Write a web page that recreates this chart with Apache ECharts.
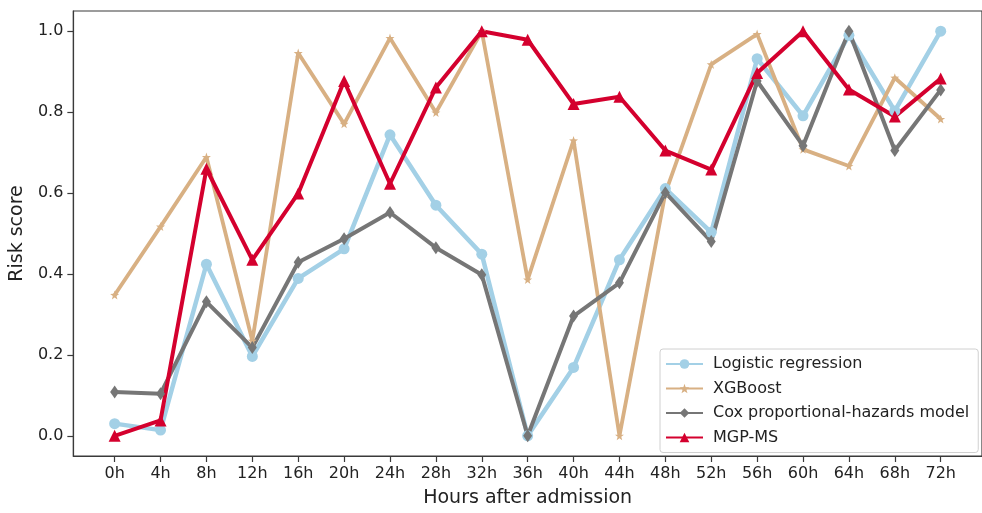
<!DOCTYPE html>
<html>
<head>
<meta charset="utf-8">
<script src="https://cdn.jsdelivr.net/npm/echarts@6/dist/echarts.min.js"></script>
<style>
  html, body { margin: 0; padding: 0; background: #fff; }
  #chart { width: 982px; height: 513px; }
</style>
</head>
<body>
<div id="chart"></div>
<script>
// Hours after admission at which each model's risk score is reported
const hours = [0, 4, 8, 12, 16, 20, 24, 28, 32, 36, 40, 44, 48, 52, 56, 60, 64, 68, 72];
const hourLabels = hours.map(h => h + 'h');
const yTicks = [0, 0.2, 0.4, 0.6, 0.8, 1.0];

const logisticRegression = [0.03, 0.014, 0.424, 0.196, 0.389, 0.462, 0.744, 0.57, 0.449, 0.0, 0.169, 0.435, 0.611, 0.503, 0.932, 0.791, 0.99, 0.803, 1.0];
const xgboost = [0.348, 0.517, 0.689, 0.235, 0.946, 0.771, 0.983, 0.799, 1.0, 0.386, 0.73, 0.0, 0.6, 0.918, 0.993, 0.708, 0.667, 0.885, 0.783];
const coxModel = [0.108, 0.104, 0.331, 0.218, 0.429, 0.487, 0.552, 0.465, 0.398, 0.0, 0.296, 0.378, 0.601, 0.48, 0.877, 0.717, 1.0, 0.705, 0.855];
const mgpMs = [0.0, 0.038, 0.66, 0.435, 0.599, 0.877, 0.623, 0.861, 1.0, 0.979, 0.82, 0.838, 0.705, 0.658, 0.897, 1.0, 0.856, 0.789, 0.883];

const pair = arr => hours.map((h, i) => [h, arr[i]]);

const STAR = 'path://M0,-10 L2.35,-3.24 L9.51,-3.09 L3.8,1.24 L5.88,8.09 L0,4 L-5.88,8.09 L-3.8,1.24 L-9.51,-3.09 L-2.35,-3.24 Z';
const FONT = 'DejaVu Sans';

const chart = echarts.init(document.getElementById('chart'), null, { renderer: 'canvas' });

function lineSeries(name, data, color, width, symbol, size) {
  return {
    name: name,
    type: 'line',
    data: pair(data),
    symbol: symbol,
    symbolSize: size,
    showAllSymbol: true,
    animation: false,
    lineStyle: { color: color, width: width },
    itemStyle: { color: color, borderWidth: 0 }
  };
}

chart.setOption({
  backgroundColor: '#ffffff',
  animation: false,
  grid: { left: 73, top: 11, right: -8, bottom: 54, show: true, borderColor: '#3a3a3a', borderWidth: 1.2, backgroundColor: 'transparent' },
  xAxis: {
    type: 'value',
    min: -3.6,
    max: 75.6,
    name: 'Hours after admission',
    nameLocation: 'middle',
    nameGap: 33,
    nameTextStyle: { fontFamily: FONT, fontSize: 19, color: '#222' },
    axisLine: { show: true, onZero: false, lineStyle: { color: '#3a3a3a', width: 1.2 } },
    axisTick: { show: true, length: 6, customValues: hours, lineStyle: { color: '#3a3a3a', width: 1.2 } },
    axisLabel: {
      customValues: hours,
      formatter: v => hourLabels[hours.indexOf(Math.round(v))] || '',
      fontFamily: FONT, fontSize: 16, color: '#222', margin: 10
    },
    splitLine: { show: false }
  },
  yAxis: {
    type: 'value',
    min: -0.05,
    max: 1.05,
    name: 'Risk score',
    nameLocation: 'middle',
    nameGap: 41,
    nameTextStyle: { fontFamily: FONT, fontSize: 19, color: '#222' },
    axisLine: { show: true, onZero: false, lineStyle: { color: '#3a3a3a', width: 1.2 } },
    axisTick: { show: true, length: 6, customValues: yTicks, lineStyle: { color: '#3a3a3a', width: 1.2 } },
    axisLabel: {
      customValues: yTicks,
      formatter: v => v.toFixed(1),
      fontFamily: FONT, fontSize: 16, color: '#222', margin: 10
    },
    splitLine: { show: false }
  },
  legend: {
    orient: 'vertical',
    left: 660,
    top: 349,
    backgroundColor: '#fff',
    borderColor: '#d0d0d0',
    borderWidth: 1,
    borderRadius: 3,
    padding: [7, 9, 7, 5],
    itemGap: 8.5,
    itemWidth: 37,
    itemHeight: 12,
    textStyle: { fontFamily: FONT, fontSize: 16, color: '#222', padding: [0, 0, 0, 5] },
    data: ['Logistic regression', 'XGBoost', 'Cox proportional-hazards model', 'MGP-MS']
  },
  series: [
    lineSeries('Logistic regression', logisticRegression, '#a3d0e6', 4.5, 'circle', 11),
    lineSeries('XGBoost', xgboost, '#d8b083', 3.8, STAR, 9),
    lineSeries('Cox proportional-hazards model', coxModel, '#767676', 4, 'diamond', [9, 13]),
    lineSeries('MGP-MS', mgpMs, '#d4002e', 4, 'triangle', 12)
  ]
});
</script>
</body>
</html>
